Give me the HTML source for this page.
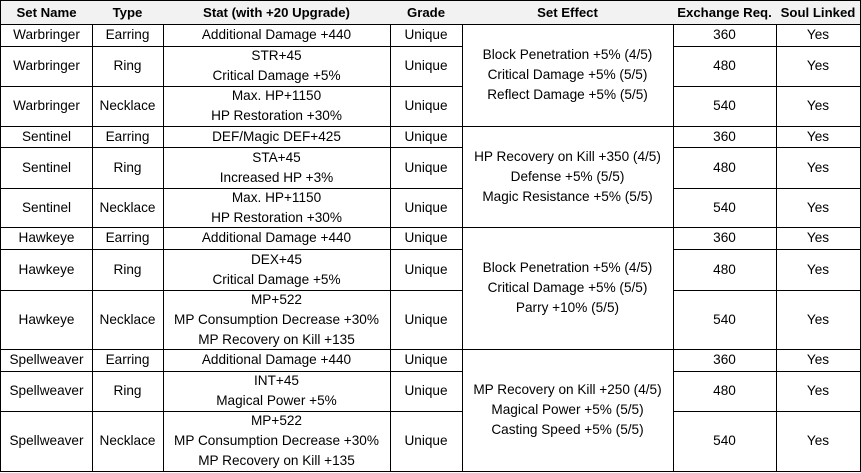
<!DOCTYPE html>
<html><head><meta charset="utf-8"><style>
body{margin:0;background:#fff;}
#t{position:relative;width:861px;height:473px;font-family:"Liberation Sans",sans-serif;font-size:13.6px;color:#000;}
.c{position:absolute;box-sizing:border-box;border-right:1px solid #000;border-bottom:1px solid #000;display:flex;flex-direction:column;justify-content:center;align-items:center;text-align:center;line-height:20px;white-space:nowrap;}
.h{background:#f2f2f2;font-weight:bold;font-size:13.2px;}
</style></head><body>
<div id="t"></div>
<script>
const cols=[0,92,163,390,462,673,776,860];
const rows=[0,24,46,86,126,147,188,227,249,290,349,371,411,471];
const headers=["Set Name","Type","Stat (with +20 Upgrade)","Grade","Set Effect","Exchange Req.","Soul Linked"];
const sets=["Warbringer","Sentinel","Hawkeye","Spellweaver"];
const types=["Earring","Ring","Necklace"];
const stats=[["Additional Damage +440"],["STR+45","Critical Damage +5%"],["Max. HP+1150","HP Restoration +30%"],
["DEF/Magic DEF+425"],["STA+45","Increased HP +3%"],["Max. HP+1150","HP Restoration +30%"],
["Additional Damage +440"],["DEX+45","Critical Damage +5%"],["MP+522","MP Consumption Decrease +30%","MP Recovery on Kill +135"],
["Additional Damage +440"],["INT+45","Magical Power +5%"],["MP+522","MP Consumption Decrease +30%","MP Recovery on Kill +135"]];
const effects=[["Block Penetration +5% (4/5)","Critical Damage +5% (5/5)","Reflect Damage +5% (5/5)"],
["HP Recovery on Kill +350 (4/5)","Defense +5% (5/5)","Magic Resistance +5% (5/5)"],
["Block Penetration +5% (4/5)","Critical Damage +5% (5/5)","Parry +10% (5/5)"],
["MP Recovery on Kill +250 (4/5)","Magical Power +5% (5/5)","Casting Speed +5% (5/5)"]];
const req=["360","480","540"];
const t=document.getElementById('t');
function cell(c0,c1,r0,r1,lines,name,cls){
 const d=document.createElement('div');
 d.className='c'+(cls?' '+cls:'');
 d.style.left=cols[c0]+'px';d.style.width=(cols[c1]-cols[c0]+1)+'px';
 d.style.top=rows[r0]+'px';d.style.height=(rows[r1]-rows[r0]+1)+'px';
 if(c0===0)d.style.borderLeft='1px solid #000';
 if(r0===0)d.style.borderTop='1px solid #000';
 lines.forEach(s=>{const p=document.createElement('div');p.textContent=s;d.appendChild(p);});
 
 
 t.appendChild(d);
}
headers.forEach((h,i)=>cell(i,i+1,0,1,[h],'header-'+h.toLowerCase().replace(/[^a-z0-9]+/g,'-'),'h'));
sets.forEach((s,si)=>{
 types.forEach((ty,ti)=>{
  const r=1+si*3+ti;
  cell(0,1,r,r+1,[s],'set-name-cell');
  cell(1,2,r,r+1,[ty],'type-cell');
  cell(2,3,r,r+1,stats[si*3+ti],'stat-cell');
  cell(3,4,r,r+1,['Unique'],'grade-cell');
  cell(5,6,r,r+1,[req[ti]],'exchange-req-cell');
  cell(6,7,r,r+1,['Yes'],'soul-linked-cell');
 });
 cell(4,5,1+si*3,4+si*3,effects[si],'set-effect-cell');
});
</script>
</body></html>
